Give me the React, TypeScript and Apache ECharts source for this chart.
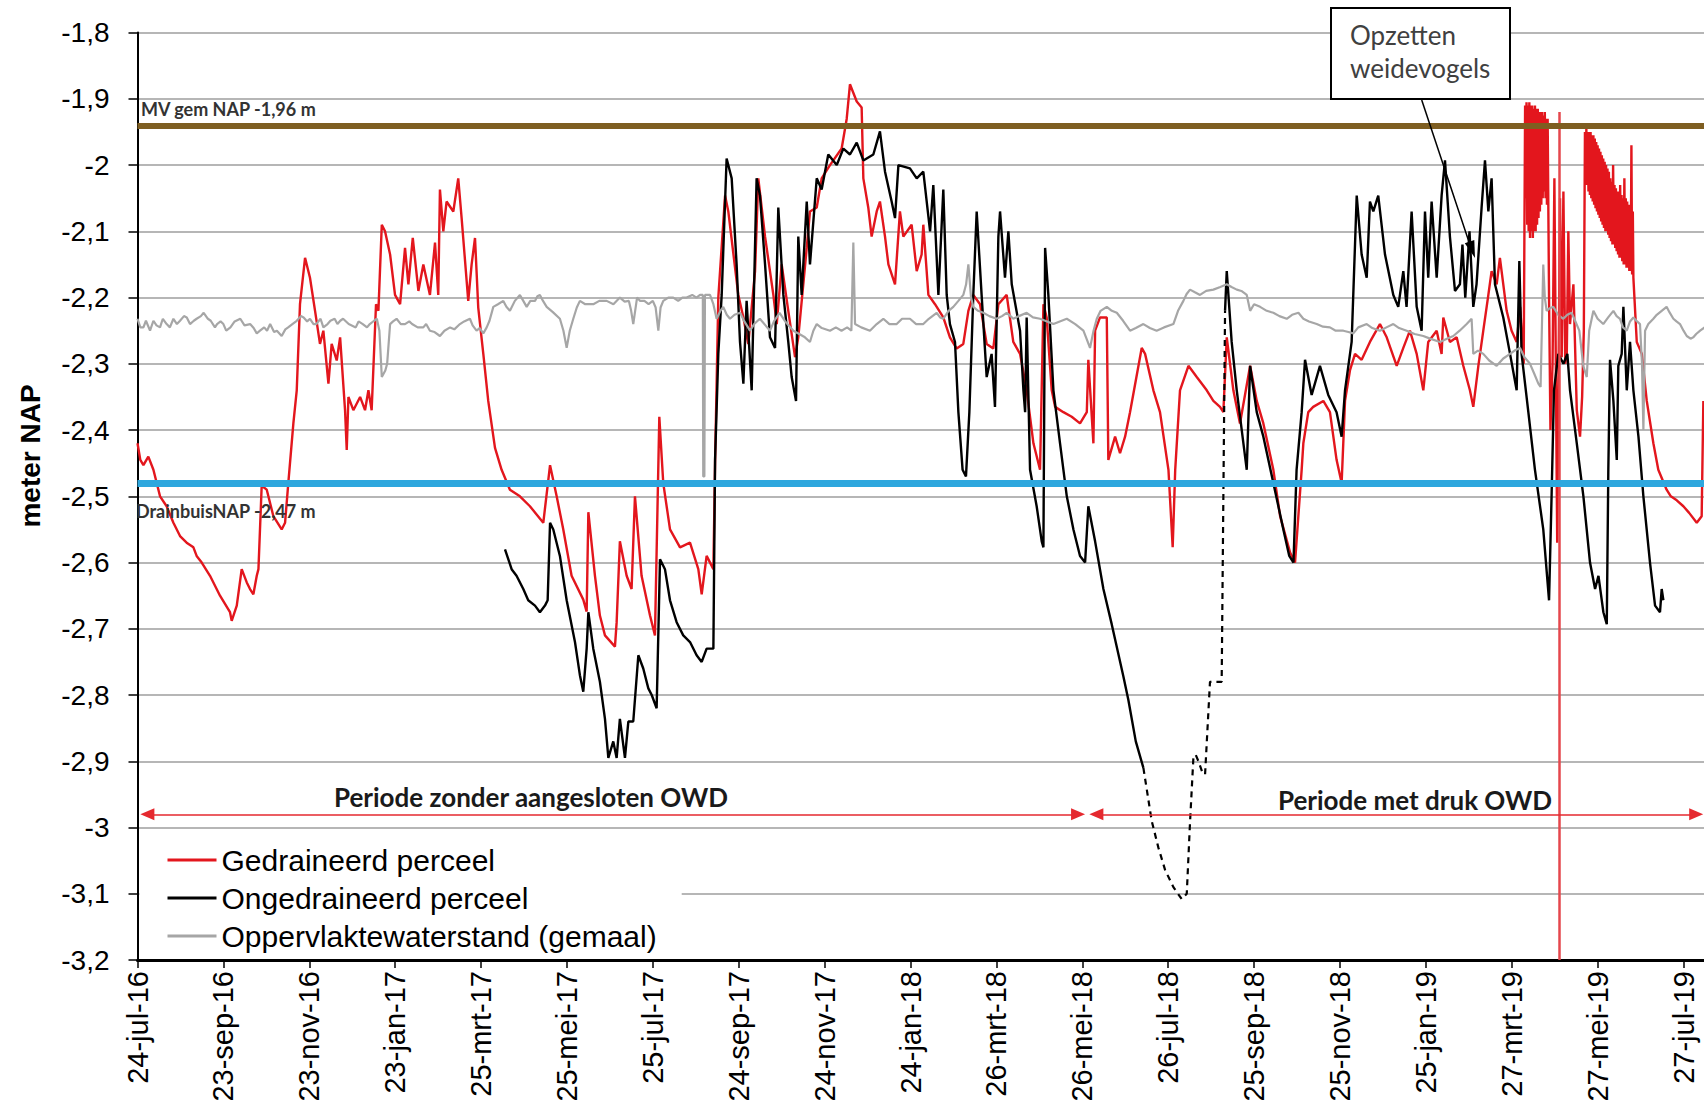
import React, { useEffect, useRef } from 'react';
import * as echarts from 'echarts';

// x values are days since 24-jul-2016 (tick every 61 days, as in the source)
const xTickLabels = [
  '24-jul-16', '23-sep-16', '23-nov-16', '23-jan-17', '25-mrt-17', '25-mei-17', '25-jul-17',
  '24-sep-17', '24-nov-17', '24-jan-18', '26-mrt-18', '26-mei-18', '26-jul-18', '25-sep-18',
  '25-nov-18', '25-jan-19', '27-mrt-19', '27-mei-19', '27-jul-19',
];

const seriesNames = ['Gedraineerd perceel', 'Ongedraineerd perceel', 'Oppervlaktewaterstand (gemaal)'];

const maaiveldLevel = -1.94;
const drainbuisLevel = -2.48;
const markerDay = 1009.6;
const periodLevel = -2.98;
const periodZonder = [7, 668];
const periodMet = [681, 1107];

const labelMV = 'MV gem NAP -1,96 m';
const labelDrain = 'DrainbuisNAP -2,47 m';
const labelZonder = 'Periode zonder aangesloten OWD';
const labelMet = 'Periode met druk OWD';
const calloutLines = ['Opzetten', 'weidevogels'];

// Gedraineerd perceel (red)
const redPart1: [number, number][] = [
  [0, -2.42], [2, -2.445], [4.2, -2.453], [7.7, -2.44], [11.3, -2.46], [16, -2.5], [20.7, -2.515], [25.5, -2.54],
  [30.2, -2.56], [34.9, -2.57], [39.7, -2.577], [42, -2.59], [45.6, -2.6], [51.5, -2.62], [58.6, -2.65],
  [65.7, -2.675], [66.9, -2.688], [70.5, -2.665], [74, -2.61], [77.6, -2.63], [79.9, -2.64], [82.3, -2.648],
  [84.7, -2.62], [85.9, -2.61], [88.2, -2.484], [91.8, -2.49], [96.5, -2.53], [102.4, -2.55], [104.8, -2.54],
  [107.1, -2.48], [110.7, -2.39], [113.1, -2.34], [115.4, -2.21], [119, -2.14], [122.5, -2.17], [126.1, -2.22],
  [129.6, -2.27], [132, -2.25], [135.6, -2.33], [137.9, -2.27], [141.5, -2.295], [143.9, -2.26], [147.4, -2.37],
  [148.6, -2.43], [149.8, -2.35], [153.3, -2.37], [158.1, -2.35], [161.6, -2.37], [164, -2.34], [166.3, -2.37],
  [169.4, -2.21], [171.1, -2.22], [173.5, -2.09], [175.8, -2.1], [179.4, -2.135], [182.9, -2.196], [186.5, -2.21],
  [190, -2.125], [192.4, -2.18], [195.5, -2.11], [199.5, -2.19], [203, -2.15], [207.7, -2.196], [211.3, -2.117],
  [213.6, -2.196], [214.8, -2.037], [217.2, -2.1], [219.5, -2.055], [224.3, -2.07], [227.8, -2.02], [230.2, -2.08],
  [234.9, -2.205], [237.3, -2.15], [239.7, -2.11], [242, -2.215], [245.6, -2.285], [249.1, -2.356], [253.9, -2.427],
  [258.6, -2.46], [264.5, -2.49], [271.6, -2.5], [278.7, -2.515], [288.2, -2.54], [293, -2.453], [297.7, -2.5],
  [302.4, -2.55], [308.3, -2.62], [316.6, -2.656], [319, -2.674], [320.2, -2.524], [324.9, -2.62], [328.4, -2.68],
  [332, -2.71], [339.1, -2.727], [340.3, -2.69], [342.6, -2.568], [347.4, -2.62], [350.9, -2.64], [353.3, -2.5],
  [358, -2.62], [364, -2.68], [367.5, -2.71], [370.6, -2.38], [373.4, -2.48], [378.2, -2.55], [385.3, -2.577],
  [392.4, -2.57], [398.3, -2.61], [400.7, -2.648], [404.2, -2.59], [409, -2.61], [410.2, -2.45], [412.5, -2.2],
  [417.3, -2.046], [419.6, -2.07], [426.7, -2.196], [430.3, -2.23], [433.8, -2.27], [438.6, -2.16], [440.9, -2.02],
  [445.7, -2.108], [451.6, -2.196], [454, -2.24], [457.5, -2.15], [462.2, -2.22], [467, -2.29], [469.3, -2.26],
  [475.3, -2.125], [477.6, -2.07], [482.4, -2.064], [485.9, -2.02], [491.8, -2.0], [500.1, -1.975], [503.7, -1.93],
  [506, -1.878], [510.8, -1.904], [514.3, -1.913], [515.5, -2.02], [519, -2.064], [521.4, -2.108], [525, -2.07],
  [527.3, -2.055], [530.9, -2.108], [533.3, -2.15], [538, -2.18], [541.5, -2.07], [543.9, -2.108], [549.8, -2.09],
  [553.4, -2.16], [556.9, -2.135], [558.1, -2.09], [561.7, -2.196], [566.4, -2.21], [572.3, -2.23], [577, -2.26],
  [581.8, -2.277], [586.5, -2.27], [590.1, -2.22], [593.6, -2.196], [598.4, -2.21], [603.1, -2.27], [607.8, -2.277],
  [611.4, -2.21], [617.3, -2.196], [622, -2.267], [626.8, -2.285], [631.5, -2.34], [636.3, -2.42], [641, -2.46],
  [643.4, -2.21], [645.7, -2.23], [649.3, -2.34], [651.7, -2.365], [657.6, -2.373], [663.5, -2.38], [669.4, -2.39],
  [674.2, -2.373], [675.3, -2.294], [678.9, -2.42], [680.1, -2.25], [683.6, -2.23], [688.4, -2.23], [689.5, -2.445],
  [694.3, -2.41], [697.8, -2.435], [701.4, -2.41], [704.9, -2.373], [713.2, -2.276], [715.6, -2.285], [721.5, -2.34],
  [726.2, -2.373], [732.2, -2.46], [735.2, -2.577], [737, -2.46], [740.4, -2.34], [746.4, -2.303], [752.3, -2.32],
  [759.4, -2.34], [764.1, -2.356], [768.8, -2.365], [771.2, -2.373], [773.6, -2.26], [778.3, -2.34], [783, -2.39],
  [790.2, -2.303], [794.9, -2.356], [799.6, -2.39], [806.7, -2.46], [811.5, -2.53], [818.6, -2.585], [822.1, -2.6],
  [826.8, -2.46], [828, -2.42], [831.5, -2.373], [835, -2.365], [842.2, -2.356], [846.9, -2.373], [851.6, -2.445],
  [855.2, -2.48], [857.6, -2.356], [861.1, -2.31], [864.7, -2.285], [869.4, -2.294], [875.3, -2.267], [882.4, -2.24],
  [887.2, -2.26], [894.3, -2.303], [899, -2.276], [903.7, -2.25], [908.5, -2.285], [913.2, -2.34], [916.7, -2.267],
  [922.7, -2.25], [926.2, -2.285], [927.4, -2.23], [932.1, -2.267], [936.9, -2.26], [941.6, -2.303], [946.3, -2.34],
  [948.7, -2.365], [952.3, -2.303], [955.8, -2.25], [959.4, -2.196], [961.7, -2.16], [965.3, -2.18], [967.6, -2.14],
  [972.4, -2.22], [975.9, -2.25], [979.5, -2.267], [982, -2.214], [984.5, -2.3],
];
const redBand1: [number, number][] = [
  [985.5, -1.91], [986, -2.05], [986.5, -1.905], [987, -2.09], [987.5, -1.91], [988, -2.1], [988.5, -1.905],
  [989, -2.11], [989.5, -1.91], [990, -2.1], [990.5, -1.91], [991, -2.11], [991.5, -1.915], [992, -2.1],
  [992.5, -1.91], [993, -2.1], [993.5, -1.915], [994, -2.09], [994.5, -1.915], [995, -2.08], [995.5, -1.92],
  [996, -2.07], [996.5, -1.92], [997, -2.06], [997.5, -1.92], [998, -2.05], [998.5, -1.925], [999, -2.04],
  [999.5, -1.92], [1000, -2.05], [1000.5, -1.93], [1001, -2.06], [1001.5, -1.93],
];
const redMid: [number, number][] = [
  [1002.5, -2.2], [1003.5, -2.4], [1005, -2.3], [1006.3, -2.02], [1007.3, -2.3], [1008.3, -2.57], [1009.3, -2.3],
  [1010.3, -2.05], [1011.5, -2.29], [1012.7, -2.04], [1014, -2.3], [1015.1, -2.285], [1016.2, -2.1], [1017.4, -2.24],
  [1019.8, -2.18], [1022.2, -2.37], [1024.5, -2.41], [1026, -2.35], [1027.2, -2.25],
];
const redBand2: [number, number][] = [
  [1028, -1.95], [1028.5, -2.02], [1029, -1.945], [1029.5, -2.03], [1030, -1.95], [1030.5, -2.04], [1031, -1.95],
  [1031.5, -2.045], [1032, -1.95], [1032.5, -2.05], [1033, -1.955], [1033.5, -2.055], [1034, -1.955], [1034.5, -2.06],
  [1035, -1.96], [1035.5, -2.065], [1036, -1.965], [1036.5, -2.07], [1037, -1.97], [1037.5, -2.075], [1038, -1.975],
  [1038.5, -2.08], [1039, -1.98], [1039.5, -2.085], [1040, -1.985], [1040.5, -2.09], [1041, -1.99], [1041.5, -2.095],
  [1042, -1.995], [1042.5, -2.1], [1043, -2.0], [1043.5, -2.1], [1044, -2.005], [1044.5, -2.105], [1045, -2.01],
  [1045.5, -2.11], [1046, -2.02], [1046.5, -2.115], [1047, -2.025], [1047.5, -2.12], [1048, -2.0], [1048.5, -2.12],
  [1049, -2.03], [1049.5, -2.125], [1050, -2.035], [1050.5, -2.13], [1051, -2.04], [1051.5, -2.135], [1052, -2.04],
  [1052.5, -2.14], [1053, -2.03], [1053.5, -2.14], [1054, -2.045], [1054.5, -2.145], [1055, -2.05], [1055.5, -2.15],
  [1056, -2.02], [1056.5, -2.15], [1057, -2.05], [1057.5, -2.155], [1058, -2.055], [1058.5, -2.155], [1059, -2.06],
  [1059.5, -2.16], [1060, -2.06], [1060.5, -2.16], [1061, -1.97], [1061.5, -2.165], [1062, -2.07], [1062.4, -2.17],
];
const redEnd: [number, number][] = [
  [1064.8, -2.267], [1068.4, -2.285], [1071.9, -2.356], [1076.6, -2.42], [1080.1, -2.46], [1086, -2.49],
  [1089, -2.5], [1093.2, -2.506], [1097.9, -2.515], [1102, -2.525], [1107.4, -2.54], [1110.9, -2.53], [1112.1, -2.356],
];
const gedraineerd = [...redPart1, ...redBand1, ...redMid, ...redBand2, ...redEnd];

// Ongedraineerd perceel (black), '-' marks the gap filled by the dashed part
const ongedraineerd: (number | string)[][] = [
  [261, -2.58], [265.7, -2.61], [269.2, -2.62], [274, -2.64], [277.5, -2.657], [282.3, -2.665], [285.8, -2.675],
  [289.4, -2.665], [291.3, -2.657], [293, -2.54], [295.3, -2.55], [300, -2.59], [304.8, -2.657], [310.7, -2.72],
  [314.2, -2.77], [316.6, -2.795], [319, -2.73], [320.2, -2.675], [323.7, -2.73], [328.4, -2.78], [332, -2.836],
  [334.4, -2.895], [337.9, -2.87], [340.3, -2.895], [342.6, -2.836], [346.2, -2.895], [348.6, -2.84], [352.1, -2.84],
  [355.7, -2.74], [359.2, -2.76], [362.8, -2.79], [365.2, -2.8], [368.7, -2.82], [371.1, -2.595], [374.6, -2.61],
  [378.2, -2.657], [382.9, -2.69], [387.6, -2.71], [392.4, -2.72], [397.1, -2.74], [400.7, -2.75], [404.2, -2.73],
  [409, -2.73], [410.2, -2.445], [412.5, -2.285], [414.9, -2.196], [418.4, -1.99], [422, -2.02], [425.5, -2.15],
  [427.9, -2.267], [430.3, -2.33], [432.6, -2.205], [436.2, -2.34], [439.7, -2.02], [442.1, -2.046], [445.7, -2.15],
  [449.2, -2.26], [452.8, -2.276], [455.1, -2.064], [458.7, -2.196], [462.2, -2.267], [464.6, -2.32], [467.7, -2.356],
  [469.3, -2.108], [471.7, -2.196], [475.3, -2.055], [477.6, -2.15], [482.4, -2.02], [485.9, -2.037], [490.6, -1.984],
  [496.6, -2.0], [501.3, -1.975], [506, -1.984], [510.8, -1.966], [515.5, -1.993], [522.6, -1.984], [527.3, -1.949],
  [530.9, -2.01], [535.6, -2.055], [538, -2.08], [540.4, -2.0], [548.6, -2.005], [553.4, -2.02], [558.1, -2.01],
  [562.9, -2.1], [565.2, -2.03], [568.8, -2.196], [572.3, -2.037], [574.7, -2.196], [577, -2.24], [580.6, -2.267],
  [583, -2.373], [586, -2.46], [588.4, -2.47], [590.8, -2.373], [593.6, -2.196], [596, -2.07], [599.5, -2.196],
  [603.1, -2.32], [606.6, -2.285], [609, -2.365], [611.4, -2.108], [612.6, -2.07], [616.1, -2.17], [618.5, -2.1],
  [620.9, -2.18], [626.8, -2.25], [629.2, -2.34], [630.4, -2.373], [631.5, -2.23], [633.9, -2.46], [638.6, -2.515],
  [642.2, -2.568], [643.4, -2.577], [644.6, -2.125], [646.9, -2.196], [650.5, -2.34], [655.2, -2.42], [660, -2.5],
  [664.7, -2.55], [669.4, -2.59], [673, -2.6], [675.3, -2.515], [680.1, -2.568], [686, -2.64], [691.9, -2.693],
  [700.2, -2.772], [703.7, -2.807], [709, -2.87], [714.4, -2.91],
  [743, '-'],
  [772.4, -2.22], [773.6, -2.16], [777.1, -2.267], [780.7, -2.34], [787.8, -2.46], [790.2, -2.303], [794.9, -2.373],
  [799.6, -2.41], [806.7, -2.48], [813.8, -2.55], [818, -2.59], [821, -2.6], [823.2, -2.46], [826.8, -2.373],
  [829.2, -2.294], [833.9, -2.347], [839.8, -2.303], [845.7, -2.347], [851.6, -2.373], [855.2, -2.41], [857.6, -2.34],
  [862.3, -2.267], [865.9, -2.046], [869.4, -2.135], [873, -2.17], [875.3, -2.055], [877.7, -2.07], [881.2, -2.046],
  [886, -2.135], [891.9, -2.196], [895.4, -2.214], [899, -2.16], [901.3, -2.214], [904.9, -2.07], [908.5, -2.214],
  [912, -2.25], [914.4, -2.07], [916.7, -2.17], [919.1, -2.055], [922.7, -2.17], [926.2, -2.046], [928.6, -1.993],
  [932.1, -2.108], [935.7, -2.19], [939.2, -2.18], [941, -2.12], [943, -2.2], [946, -2.1], [948.7, -2.214],
  [951, -2.18], [954.6, -2.064], [957, -1.993], [959.4, -2.07], [961.7, -2.02], [964.1, -2.18], [970, -2.23],
  [974.8, -2.285], [979.5, -2.34], [981.4, -2.145], [983, -2.285], [987.8, -2.373], [992.5, -2.46], [998.4, -2.55],
  [1002.5, -2.657], [1004.3, -2.5], [1006, -2.34], [1009.1, -2.285], [1012.7, -2.3], [1015.5, -2.285],
  [1017.4, -2.34], [1022.2, -2.42], [1026.9, -2.5], [1031.6, -2.6], [1035.2, -2.64], [1037.6, -2.62],
  [1041.1, -2.675], [1043.5, -2.693], [1044.6, -2.46], [1045.8, -2.294], [1048.2, -2.356], [1050.6, -2.445],
  [1051.7, -2.303], [1054.1, -2.285], [1055.3, -2.214], [1057.7, -2.34], [1060, -2.267], [1062.4, -2.34],
  [1066, -2.41], [1069.5, -2.5], [1074.2, -2.6], [1077.8, -2.665], [1081.3, -2.675], [1082.5, -2.64], [1083.7, -2.657],
];
// estimated (dashed) part of the black series
const ongedraineerdGat: [number, number][] = [
  [714.4, -2.91], [720.3, -2.99], [725, -3.03], [729.8, -3.064], [735.7, -3.09], [741.6, -3.108], [745.2, -3.1],
  [747.5, -2.993], [749.9, -2.895], [751.5, -2.89], [753.5, -2.9], [756, -2.915], [758.2, -2.92], [761.7, -2.78],
  [770, -2.78], [772.4, -2.22],
];

// Oppervlaktewaterstand (grey)
const oppervlakte: [number, number][] = [
  [0, -2.232], [2, -2.245], [4.2, -2.245], [6, -2.235], [8.9, -2.25], [11.3, -2.235], [13.5, -2.242], [16, -2.245],
  [18, -2.232], [20.7, -2.24], [23, -2.245], [25.5, -2.232], [28, -2.24], [30.2, -2.235], [33, -2.228], [35, -2.23],
  [37.3, -2.24], [40, -2.235], [42, -2.232], [45, -2.228], [47, -2.223], [50, -2.232], [52, -2.235], [55, -2.245],
  [56.5, -2.24], [59, -2.236], [61, -2.24], [63, -2.25], [66, -2.245], [69, -2.236], [73, -2.232], [76, -2.242],
  [80, -2.24], [82.5, -2.246], [84.7, -2.254], [87, -2.25], [90, -2.245], [92, -2.25], [94.2, -2.24], [97, -2.252],
  [99, -2.25], [102.4, -2.258], [105, -2.248], [107, -2.245], [110, -2.24], [113.1, -2.235], [116, -2.228],
  [118, -2.23], [120.5, -2.236], [122.5, -2.232], [125, -2.24], [127, -2.24], [130, -2.232], [132, -2.245],
  [135, -2.24], [137, -2.235], [140, -2.232], [142, -2.24], [144, -2.235], [146, -2.232], [150, -2.24], [155, -2.245],
  [157, -2.236], [160, -2.24], [163, -2.245], [165, -2.24], [168, -2.235], [170, -2.232], [171.8, -2.25],
  [173.5, -2.32], [176, -2.31], [177.3, -2.3], [179.4, -2.24], [181.5, -2.236], [184, -2.232], [187, -2.24],
  [190, -2.24], [193, -2.236], [195, -2.24], [199, -2.245], [203, -2.245], [205, -2.24], [207.7, -2.25], [211, -2.252],
  [214.8, -2.258], [218, -2.25], [222, -2.245], [225, -2.248], [229, -2.24], [232, -2.236], [236.1, -2.232],
  [238, -2.242], [240.8, -2.25], [243, -2.246], [245.6, -2.254], [248, -2.245], [250, -2.235], [252.7, -2.214],
  [256, -2.21], [259.8, -2.205], [262, -2.214], [264.5, -2.22], [268, -2.205], [271.6, -2.196], [274, -2.205],
  [276.4, -2.214], [279, -2.205], [282.3, -2.205], [284, -2.198], [285.8, -2.196], [288, -2.205], [290.6, -2.214],
  [295, -2.222], [300, -2.232], [302.5, -2.25], [304.8, -2.276], [307, -2.25], [309.5, -2.232], [312, -2.215],
  [314.2, -2.205], [318, -2.21], [323.7, -2.21], [328, -2.205], [333.2, -2.205], [338, -2.21], [342.6, -2.2],
  [346, -2.206], [349, -2.205], [350.6, -2.22], [352.1, -2.24], [354.8, -2.2], [357, -2.205], [360, -2.205],
  [363, -2.21], [366, -2.205], [368, -2.215], [369.9, -2.25], [371.5, -2.215], [373.4, -2.205], [377, -2.2],
  [380.5, -2.2], [384, -2.205], [387, -2.2], [390, -2.2], [394, -2.196], [397, -2.2], [399.5, -2.196], [401.5, -2.196],
  [401.8, -2.47], [402.6, -2.47], [403, -2.196], [406.6, -2.196], [409, -2.21], [411.3, -2.232], [414, -2.22],
  [416, -2.214], [418.5, -2.226], [420.8, -2.232], [424, -2.226], [428, -2.223], [431, -2.236], [435, -2.25],
  [438, -2.24], [442, -2.232], [446, -2.242], [449.2, -2.25], [452, -2.236], [456, -2.223], [460, -2.236],
  [465.8, -2.25], [470, -2.255], [474, -2.26], [477.6, -2.267], [480, -2.25], [482.4, -2.24], [486, -2.246],
  [491.8, -2.25], [496, -2.245], [500, -2.25], [504, -2.245], [507, -2.25], [508.4, -2.117], [509.6, -2.24],
  [514, -2.245], [520.2, -2.25], [525, -2.24], [529.7, -2.232], [534, -2.24], [539.2, -2.24], [543, -2.232],
  [548.6, -2.232], [553, -2.24], [558.1, -2.24], [562, -2.232], [567.6, -2.223], [570, -2.23], [572.3, -2.232],
  [576, -2.22], [579.4, -2.214], [583, -2.205], [586.5, -2.196], [588.5, -2.18], [590.1, -2.15], [592, -2.2],
  [593.6, -2.214], [597, -2.22], [600.7, -2.223], [605, -2.228], [610.2, -2.232], [614, -2.228], [617.3, -2.223],
  [620, -2.228], [622, -2.232], [626, -2.228], [631.5, -2.223], [636, -2.23], [641, -2.232], [646, -2.236],
  [650.5, -2.24], [655, -2.236], [660, -2.232], [666, -2.24], [671.8, -2.25], [674, -2.262], [676.5, -2.276],
  [679, -2.25], [681.3, -2.232], [684, -2.22], [688.4, -2.214], [692, -2.22], [695.5, -2.223], [700, -2.235],
  [704.9, -2.25], [709, -2.246], [714.4, -2.24], [719, -2.246], [723.8, -2.25], [729, -2.245], [735.7, -2.24],
  [739, -2.22], [742.8, -2.205], [745, -2.195], [747.5, -2.188], [751, -2.192], [754.6, -2.196], [759, -2.19],
  [764.1, -2.188], [769, -2.184], [773.6, -2.18], [777, -2.184], [780.7, -2.188], [784, -2.19], [787.8, -2.196],
  [790.2, -2.22], [793, -2.21], [797.3, -2.214], [802, -2.22], [806.7, -2.223], [811, -2.228], [816.2, -2.232],
  [820, -2.226], [824.5, -2.223], [828, -2.232], [832, -2.236], [837.5, -2.24], [842, -2.244], [846.9, -2.245],
  [851, -2.25], [856.4, -2.25], [860, -2.252], [863.5, -2.254], [867, -2.245], [873, -2.24], [877, -2.246],
  [882.4, -2.25], [887, -2.245], [891.9, -2.24], [896, -2.246], [901.4, -2.25], [907, -2.255], [913.2, -2.258],
  [918, -2.262], [925, -2.267], [930, -2.262], [934.5, -2.258], [939, -2.25], [944, -2.24], [947.5, -2.232],
  [948.7, -2.285], [952, -2.28], [955.8, -2.285], [960, -2.295], [965.3, -2.303], [970, -2.292], [974.8, -2.285],
  [978, -2.28], [981.9, -2.276], [985, -2.29], [989, -2.3], [992, -2.315], [994.9, -2.33], [996.5, -2.335],
  [998.4, -2.15], [999.5, -2.2], [1000.8, -2.22], [1003, -2.216], [1005.5, -2.214], [1009, -2.226], [1012.6, -2.232],
  [1015.5, -2.226], [1018.5, -2.223], [1021, -2.235], [1024, -2.25], [1026.8, -2.303], [1029.3, -2.32], [1031, -2.25],
  [1034, -2.22], [1037, -2.232], [1041, -2.24], [1044.5, -2.23], [1048.2, -2.22], [1050.5, -2.228], [1052.9, -2.232],
  [1055, -2.245], [1057.7, -2.25], [1060, -2.236], [1062.4, -2.23], [1065, -2.236], [1067.1, -2.24], [1068.5, -2.3],
  [1069.5, -2.4], [1070.7, -2.25], [1073, -2.24], [1076.6, -2.232], [1079, -2.226], [1082.5, -2.22], [1086, -2.214],
  [1088, -2.222], [1090.8, -2.232], [1093, -2.236], [1095.5, -2.24], [1098, -2.25], [1100.3, -2.258], [1103, -2.262],
  [1105, -2.26], [1107, -2.255], [1109.8, -2.25], [1113, -2.245],
];

const FONT = '"Liberation Sans", Arial, sans-serif';
const NOTE_FONT = 'Lato, "Open Sans", sans-serif';
const RED = '#E3161D';
const GREY = '#A6A6A6';

function yFmt(v: number): string {
  let s = (Math.round(v * 10) / 10).toFixed(1);
  if (s.endsWith('.0')) s = s.slice(0, -2);
  return s.replace('.', ',');
}

function xFmt(v: number): string {
  const i = Math.round(v / 61);
  if (Math.abs(v - i * 61) > 0.01) return '';
  return xTickLabels[i] ?? '';
}

export default function App() {
  const ref = useRef<HTMLDivElement>(null);
  useEffect(() => {
    if (!ref.current) return;
    const chart = echarts.init(ref.current, null, { renderer: 'svg' });
    const option: any = {
      animation: false,
      backgroundColor: '#ffffff',
      grid: { left: 137.5, top: 32.6, height: 927.4, width: 1631.9, containLabel: false, outerBoundsMode: 'none' },
      xAxis: {
        type: 'value',
        min: 0,
        max: 1159,
        interval: 61,
        axisLine: { onZero: false, lineStyle: { color: '#000', width: 3 } },
        axisTick: { show: true, length: 8, lineStyle: { color: '#000', width: 1.5 } },
        splitLine: { show: false },
        axisLabel: {
          rotate: 90,
          margin: 11,
          color: '#000',
          fontFamily: FONT,
          fontSize: 29,
          formatter: xFmt,
        },
      },
      yAxis: {
        type: 'value',
        min: -3.2,
        max: -1.8,
        interval: 0.1,
        axisLine: { show: true, onZero: false, lineStyle: { color: '#000', width: 2 } },
        axisTick: { show: true, length: 9, lineStyle: { color: '#000', width: 1.5 } },
        splitLine: { show: true, lineStyle: { color: '#9E9E9E', width: 1.6 } },
        axisLabel: { margin: 28, color: '#000', fontFamily: FONT, fontSize: 28, formatter: yFmt },
      },
      legend: {
        data: seriesNames,
        orient: 'vertical',
        left: 139.5,
        top: 839,
        icon: 'rect',
        itemWidth: 49,
        itemHeight: 3,
        itemGap: 8,
        padding: [6, 25, 6, 28],
        backgroundColor: '#ffffff',
        selectedMode: false,
        textStyle: { fontFamily: FONT, fontSize: 30, color: '#000' },
      },
      series: [
        {
          name: seriesNames[0],
          type: 'line',
          data: gedraineerd,
          showSymbol: false,
          symbol: 'none',
          itemStyle: { color: RED },
          lineStyle: { color: RED, width: 2.4 },
          markLine: {
            silent: true,
            symbol: 'none',
            label: { show: false },
            data: [
              [
                { coord: [markerDay, -1.92], lineStyle: { color: '#E5474C', width: 2.5, type: 'solid' } },
                { coord: [markerDay, -3.2] },
              ],
            ],
          },
        },
        {
          name: seriesNames[1],
          type: 'line',
          data: ongedraineerd,
          connectNulls: false,
          showSymbol: false,
          symbol: 'none',
          itemStyle: { color: '#000' },
          lineStyle: { color: '#000', width: 2.4 },
        },
        {
          name: 'Ongedraineerd (geschat)',
          type: 'line',
          data: ongedraineerdGat,
          showSymbol: false,
          symbol: 'none',
          itemStyle: { color: '#000' },
          lineStyle: { color: '#000', width: 2.2, type: [6, 5] },
        },
        {
          name: seriesNames[2],
          type: 'line',
          data: oppervlakte,
          showSymbol: false,
          symbol: 'none',
          itemStyle: { color: GREY },
          lineStyle: { color: GREY, width: 2.2 },
          markLine: {
            silent: true,
            symbol: 'none',
            label: { show: false },
            data: [
              { yAxis: maaiveldLevel, lineStyle: { color: '#7E5E21', width: 6, type: 'solid' } },
              { yAxis: drainbuisLevel, lineStyle: { color: '#2EA7DE', width: 7, type: 'solid' } },
            ],
          },
        },
        {
          name: 'periodes',
          type: 'line',
          data: [],
          markLine: {
            silent: true,
            symbol: ['triangle', 'triangle'],
            symbolSize: [12, 14],
            label: { show: false },
            lineStyle: { color: '#E5292F', width: 1.5, type: 'solid' },
            data: [
              [{ coord: [periodZonder[0], periodLevel] }, { coord: [periodZonder[1], periodLevel] }],
              [{ coord: [periodMet[0], periodLevel] }, { coord: [periodMet[1], periodLevel] }],
            ],
          },
        },
      ],
      graphic: [
        {
          type: 'text', x: 30, y: 456, rotation: Math.PI / 2, z: 100,
          style: { text: 'meter NAP', font: `bold 28px ${FONT}`, fill: '#000', textAlign: 'center', textVerticalAlign: 'middle', align: 'center', verticalAlign: 'middle' },
        },
        {
          type: 'text', x: 141, y: 109, z: 100,
          style: { text: labelMV, font: `bold 18px ${NOTE_FONT}`, fill: '#333', textAlign: 'left', textVerticalAlign: 'middle', align: 'left', verticalAlign: 'middle' },
        },
        {
          type: 'text', x: 136, y: 511, z: 100,
          style: { text: labelDrain, font: `bold 18px ${NOTE_FONT}`, fill: '#333', textAlign: 'left', textVerticalAlign: 'middle', align: 'left', verticalAlign: 'middle' },
        },
        {
          type: 'text', x: 531, y: 797, z: 100,
          style: { text: labelZonder, font: `bold 26px ${NOTE_FONT}`, fill: '#1a1a1a', textAlign: 'center', textVerticalAlign: 'middle', align: 'center', verticalAlign: 'middle' },
        },
        {
          type: 'text', x: 1415, y: 800, z: 100,
          style: { text: labelMet, font: `bold 26px ${NOTE_FONT}`, fill: '#1a1a1a', textAlign: 'center', textVerticalAlign: 'middle', align: 'center', verticalAlign: 'middle' },
        },
        {
          type: 'rect', z: 100,
          shape: { x: 1331, y: 8, width: 179, height: 91 },
          style: { fill: '#fff', stroke: '#000', lineWidth: 2 },
        },
        {
          type: 'text', x: 1350, y: 35, z: 101,
          style: { text: calloutLines[0], font: `26px ${NOTE_FONT}`, fill: '#404040', textAlign: 'left', textVerticalAlign: 'middle', align: 'left', verticalAlign: 'middle' },
        },
        {
          type: 'text', x: 1350, y: 68, z: 101,
          style: { text: calloutLines[1], font: `26px ${NOTE_FONT}`, fill: '#404040', textAlign: 'left', textVerticalAlign: 'middle', align: 'left', verticalAlign: 'middle' },
        },
        {
          type: 'line', z: 100,
          shape: { x1: 1421.7, y1: 100, x2: 1471, y2: 248 },
          style: { stroke: '#000', lineWidth: 1.5 },
        },
        {
          type: 'polygon', z: 100,
          shape: { points: [[1475, 258], [1474.3, 240.1], [1464.8, 243.3]] },
          style: { fill: '#000' },
        },
      ],
    };
    chart.setOption(option);
    return () => chart.dispose();
  }, []);
  return <div ref={ref} style={{ position: 'absolute', left: 0, top: 0, width: 1704, height: 1114 }} />;
}
